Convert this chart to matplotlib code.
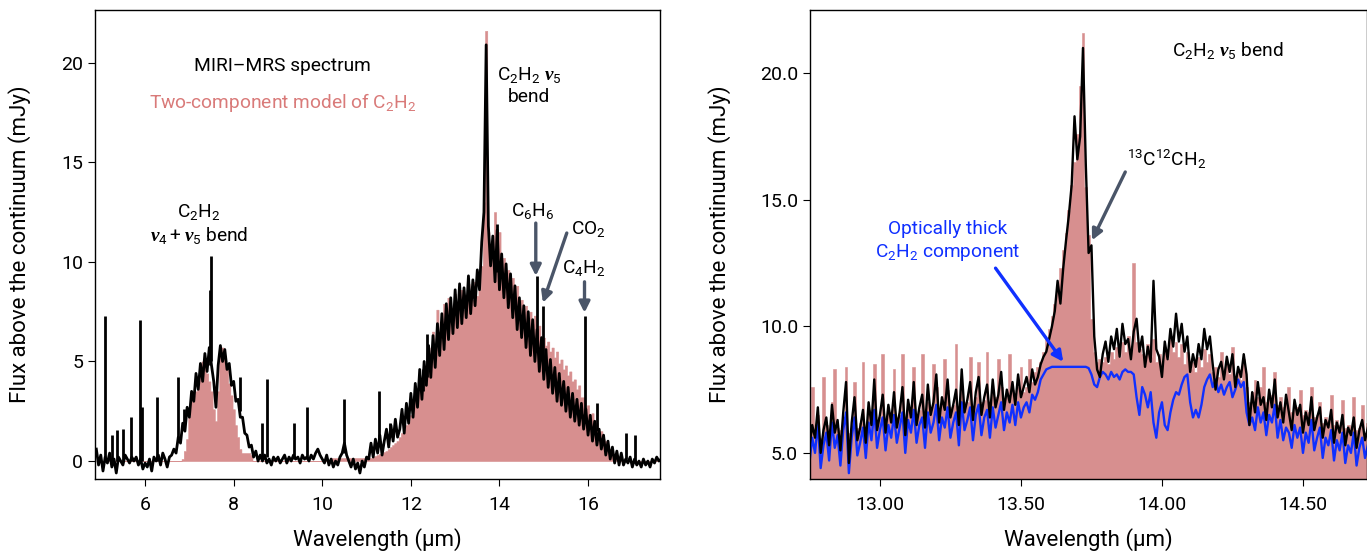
import numpy as np
import matplotlib
matplotlib.use("Agg")
import matplotlib.pyplot as plt
from matplotlib.ticker import FormatStrFormatter

plt.rcParams['font.family'] = ['Roboto', 'DejaVu Sans']
plt.rcParams['mathtext.fontset'] = 'custom'
plt.rcParams['mathtext.rm'] = 'Roboto'
plt.rcParams['mathtext.it'] = 'Roboto:italic'
plt.rcParams['mathtext.bf'] = 'Roboto:bold'
plt.rcParams['mathtext.bfit'] = 'Liberation Serif:italic:bold'

# ---- full MIRI-MRS range (left), 0.05 um sampling from 4.90 um ----
wl0_full, dwl_full = 4.90, 0.05
flux_full = (
    # 4.90 - 6.65
    [0.6, -0.2, 0.3, -0.5, 0.2, -0.1, 0.4, -0.3, 0.1, -0.6,
     0.2, 0.0, -0.2, 0.3, 0.1, -0.1, 0.2, 0.0, 0.2, -0.2,
     0.1, -0.4, -0.1, -0.3, 0.1, -0.5, 0.2, 0.0, 0.3, -0.2,
     0.4, 0.1, -0.3, 0.2, 0.3, 0.6]
    # 6.70 - 8.60  (nu4+nu5 band)
    + [0.4, 1.2, 0.9, 1.9, 1.5, 2.7, 2.2, 3.5, 3.0, 4.4,
       3.6, 4.9, 4.0, 5.4, 4.5, 5.7, 4.8, 4.0, 2.7, 4.8,
       5.8, 5.0, 5.6, 4.6, 4.9, 3.8, 4.0, 3.0, 3.1, 2.2,
       2.2, 1.4, 1.3, 0.7, 0.8, 0.2, 0.5, 0.0, 0.3]
    # 8.65 - 11.00
    + [0.0, 0.3, -0.1, 0.1, -0.2, 0.2, 0.0, 0.2, -0.1, 0.1,
       0.3, -0.1, 0.2, 0.0, 0.3, 0.1, 0.2, -0.1, 0.3, 0.1,
       0.2, 0.0, 0.3, 0.1, 0.4, 0.6, 0.3, 0.1, -0.1, 0.3,
       -0.2, 0.1, -0.3, 0.0, -0.2, 0.2, 0.4, 0.9, 0.3, 0.0,
       -0.3, 0.1, -0.4, -0.1, -0.6, 0.0, -0.3, 0.2]
    # 11.05 - 13.65  (nu5 band, blue wing)
    + [0.1, 0.9, 0.2, 1.1, 0.4, 1.3, 0.3, 1.0, 1.6, 0.7,
       1.8, 1.0, 2.1, 1.2, 1.6, 2.6, 1.4, 2.9, 1.9, 3.4,
       2.2, 3.9, 2.7, 4.6, 3.1, 5.0, 3.8, 5.8, 4.2, 6.3,
       4.7, 6.9, 5.3, 7.4, 5.6, 7.9, 6.1, 8.2, 6.4, 8.6,
       6.7, 8.9, 6.9, 8.7, 7.2, 9.3, 7.4, 9.1, 7.8, 9.6,
       8.6, 11.0, 12.5]
    # 13.70 - 14.35  (Q branch)
    + [20.9, 11.8, 9.8, 11.3, 9.0, 11.6, 8.6, 10.4, 8.2, 9.9,
       7.7, 9.4, 7.2, 8.8]
    # 14.40 - 16.75  (red wing)
    + [6.6, 8.2, 6.2, 7.8, 5.7, 7.5, 5.3, 7.1, 5.0, 6.6,
       4.5, 6.2, 4.1, 5.6, 3.7, 5.1, 3.4, 4.7, 3.0, 4.4,
       2.8, 4.0, 2.5, 3.7, 2.2, 3.4, 2.0, 3.1, 1.8, 2.9,
       1.6, 2.6, 1.3, 2.3, 1.0, 2.0, 0.8, 1.6, 0.6, 1.3,
       0.3, 1.0, 0.1, 0.7, -0.1, 0.5, -0.2, 0.4]
    # 16.80 - 17.65
    + [-0.2, 0.1, -0.1, 0.2, -0.3, 0.1, -0.2, 0.0, -0.3, 0.1,
       -0.2, 0.0, -0.3, 0.1, -0.1, 0.2, 0.0, 0.1]
)
model_full = (
    [0.0] * 36
    + [0.0, 0.0, 0.0, 0.1, 0.5, 1.1, 2.2, 3.0, 3.3, 3.5,
       4.0, 4.6, 5.0, 5.0, 4.4, 4.0, 3.5, 2.6, 2.0, 3.5,
       5.3, 5.7, 5.3, 4.6, 3.9, 3.3, 2.6, 1.8, 1.2, 0.6,
       0.4, 0.4, 0.4, 0.4, 0.3, 0.0, 0.0, 0.0, 0.0]
    + [0.0] * 31 + [0.15] * 17
    + [0.15, 0.15, 0.2, 0.25, 0.3, 0.35, 0.4, 0.45, 0.5, 0.6,
       0.7, 0.8, 0.9, 1.0, 1.2, 1.4, 1.6, 1.8, 2.0, 2.3,
       2.6, 3.0, 3.3, 3.8, 4.0, 4.6, 4.8, 5.7, 5.3, 6.5,
       5.9, 7.6, 6.3, 6.6, 7.9, 6.8, 8.2, 7.0, 7.2, 8.4,
       7.3, 7.6, 8.6, 7.6, 7.8, 8.9, 7.9, 8.1, 9.0, 8.3,
       8.6, 9.8, 13.0]
    + [21.6, 11.5, 10.6, 10.2, 12.5, 9.8, 11.5, 9.4, 10.2, 9.0,
       9.6, 8.6, 9.2, 8.3]
    + [8.8, 7.9, 8.1, 7.5, 7.8, 7.2, 7.5, 6.9, 7.3, 6.6,
       6.8, 6.2, 6.2, 5.8, 6.0, 5.5, 5.7, 5.2, 5.5, 4.9,
       5.1, 4.6, 4.8, 4.3, 4.5, 4.0, 4.1, 3.6, 3.8, 3.2,
       3.2, 2.7, 2.8, 2.3, 2.4, 1.9, 1.9, 1.5, 1.5, 1.1,
       1.0, 0.7, 0.6, 0.4, 0.3, 0.15, 0.1, 0.0]
    + [0.0] * 18
)

# narrow emission lines on top of the spectrum: position, foot, peak
line_wl = [5.10, 5.25, 5.36, 5.51, 5.68, 5.89, 5.94, 6.27, 6.75, 6.89,
           7.47, 7.49, 8.14, 8.65, 8.75, 9.37, 9.65, 10.48, 11.29, 11.53,
           12.28, 12.36, 13.94, 14.84, 14.98, 15.92, 16.20, 16.86, 17.05]
line_foot = [0.0, 0.0, 0.0, 0.0, 0.0, 0.0, 0.0, 0.0, 1.0, 1.8,
             4.8, 5.0, 2.5, 0.1, 0.2, 0.1, 0.1, 0.4, 0.8, 1.2,
             3.5, 4.2, 9.5, 5.8, 5.0, 2.4, 1.5, 0.1, 0.0]
line_peak = [7.3, 1.3, 1.55, 1.6, 2.2, 7.1, 2.7, 3.2, 4.2, 2.6,
             8.6, 10.3, 4.2, 1.9, 4.1, 1.9, 2.7, 3.1, 3.5, 1.9,
             4.6, 6.4, 11.9, 9.3, 7.8, 7.3, 2.9, 1.4, 1.3]

# ---- zoom on the nu5 band (right), 0.01 um sampling from 12.75 um ----
wl0_zoom, dwl_zoom = 12.75, 0.01
flux_zoom = (
    # 12.75 - 13.55
    [5.2, 6.1, 5.6, 6.8, 5.0, 5.9, 6.4, 5.3, 6.9, 5.8,
     6.3, 5.1, 6.6, 7.8, 4.6, 6.2, 7.2, 5.5, 6.0, 6.7,
     5.4, 7.0, 6.1, 7.9, 5.9, 6.5, 7.3, 5.8, 6.9, 6.2,
     7.4, 6.0, 6.6, 7.6, 5.7, 7.1, 6.4, 7.8, 6.1, 6.8,
     7.3, 6.0, 7.7, 6.5, 7.0, 8.1, 6.2, 7.2, 6.7, 7.9,
     6.4, 6.9, 7.5, 6.1, 8.3, 6.6, 7.1, 7.8, 6.3, 7.4,
     8.0, 6.5, 7.2, 7.7, 6.4, 7.9, 6.8, 7.3, 8.2, 6.7,
     7.5, 7.0, 7.8, 6.9, 8.1, 7.2, 7.6, 8.0, 7.4, 8.3,
     7.7]
    # 13.56 - 13.78
    + [8.0, 8.5, 8.8, 9.0, 9.5, 10.0, 10.6, 11.8, 10.9, 12.3,
       13.4, 14.4, 15.6, 18.3, 16.6, 17.5, 21.0, 16.4, 12.9, 13.2,
       9.6, 8.3, 8.0]
    # 13.79 - 14.30
    + [8.9, 9.4, 8.6, 9.6, 9.1, 9.9, 8.8, 10.1, 9.3, 9.5,
       8.7, 9.8, 10.3, 9.0, 9.6, 8.4, 9.2, 8.6, 11.8, 9.1,
       8.8, 8.0, 9.4, 8.7, 9.9, 9.2, 10.5, 9.4, 10.1, 9.0,
       9.6, 8.2, 8.9, 8.4, 9.3, 8.7, 9.9, 9.1, 9.6, 8.5,
       7.5, 8.3, 8.6, 7.9, 8.8, 8.2, 8.9, 7.6, 8.4, 8.0,
       8.9, 8.1]
    # 14.31 - 14.73
    + [6.1, 7.4, 6.6, 7.8, 6.9, 7.2, 6.3, 7.5, 6.8, 7.9,
       6.4, 7.0, 6.2, 7.3, 6.6, 5.9, 7.1, 6.5, 6.9, 5.8,
       6.6, 6.1, 7.2, 5.9, 6.4, 6.8, 5.6, 6.3, 6.0, 6.7,
       5.4, 6.2, 5.8, 6.5, 5.3, 6.0, 5.7, 6.4, 5.2, 5.9,
       6.3, 5.5, 6.0]
)
thick_zoom = (
    [4.6, 5.6, 5.0, 6.2, 4.4, 5.3, 5.8, 4.7, 6.2, 5.2,
     5.7, 4.5, 5.9, 6.6, 4.2, 5.6, 6.4, 4.9, 5.4, 6.0,
     4.8, 6.2, 5.5, 6.7, 5.2, 5.9, 6.4, 5.1, 6.1, 5.6,
     6.5, 5.4, 6.0, 6.6, 5.0, 6.3, 5.8, 6.7, 5.4, 6.1,
     6.4, 5.2, 6.6, 5.8, 6.2, 6.9, 5.5, 6.4, 6.0, 6.8,
     5.6, 6.2, 6.6, 5.3, 7.0, 5.9, 6.3, 6.8, 5.5, 6.5,
     6.9, 5.7, 6.4, 6.7, 5.6, 6.8, 6.0, 6.5, 7.0, 5.9,
     6.6, 6.2, 6.9, 6.1, 7.0, 6.4, 6.8, 7.0, 6.6, 7.3,
     7.1]
    + [7.4, 7.9, 8.1, 8.3, 8.35, 8.4, 8.4, 8.4, 8.4, 8.4,
       8.4, 8.4, 8.4, 8.4, 8.4, 8.4, 8.4, 8.4, 8.35, 8.1,
       7.7, 7.6, 8.0]
    + [8.2, 8.1, 7.9, 8.2, 8.0, 8.1, 7.9, 8.2, 8.3, 8.2,
       8.2, 8.1, 7.2, 6.5, 7.6, 7.3, 6.8, 7.4, 6.2, 5.6,
       6.6, 7.0, 6.1, 5.9, 6.6, 7.1, 7.4, 7.3, 7.7, 8.0,
       8.1, 7.0, 6.4, 6.7, 6.4, 6.9, 7.6, 7.9, 8.1, 7.6,
       7.9, 7.4, 7.7, 7.3, 7.6, 7.8, 7.2, 7.5, 7.9, 7.6,
       7.8, 6.6]
    + [6.1, 6.4, 5.9, 6.8, 6.2, 6.6, 5.7, 6.5, 6.2, 6.9,
       5.6, 6.3, 5.5, 6.0, 5.8, 5.2, 6.1, 5.6, 6.0, 5.0,
       5.8, 5.4, 6.3, 5.1, 5.6, 6.0, 4.8, 5.6, 5.3, 5.9,
       4.7, 5.5, 5.1, 5.8, 4.6, 5.3, 5.0, 5.8, 4.5, 5.2,
       5.6, 4.8, 5.3]
)
model_zoom = (
    [6.0, 7.6, 5.8, 6.5, 5.6, 8.0, 6.1, 5.9, 7.0, 8.3,
     6.0, 5.9, 6.4, 8.4, 5.8, 6.0, 7.8, 6.0, 6.2, 8.6,
     6.0, 6.7, 6.4, 8.5, 6.2, 6.4, 8.9, 6.1, 6.6, 6.5,
     8.3, 6.4, 6.5, 8.9, 6.3, 6.8, 6.6, 8.4, 6.5, 6.7,
     8.9, 6.6, 7.0, 6.8, 8.5, 7.6, 6.6, 7.0, 8.7, 7.5,
     6.8, 6.9, 9.3, 6.7, 7.6, 7.0, 7.0, 8.8, 6.8, 7.2,
     8.6, 7.0, 7.1, 9.0, 7.0, 7.5, 7.2, 8.7, 7.6, 7.1,
     7.3, 8.9, 7.5, 7.2, 7.6, 8.4, 7.4, 7.6, 8.7, 7.8,
     8.2]
    + [8.4, 8.6, 9.0, 9.5, 9.9, 10.4, 10.9, 11.6, 12.3, 13.0,
       13.7, 14.6, 15.6, 16.5, 17.6, 19.5, 21.6, 15.5, 13.6, 10.3,
       9.0, 8.6, 8.7]
    + [8.6, 8.8, 8.5, 9.0, 8.7, 9.2, 8.8, 9.4, 9.0, 9.6,
       9.2, 12.5, 9.4, 9.1, 8.9, 8.7, 9.3, 8.8, 9.5, 8.6,
       8.9, 8.4, 9.2, 8.7, 9.6, 9.0, 9.4, 8.8, 9.3, 8.5,
       9.0, 8.3, 8.6, 8.2, 8.8, 8.4, 9.1, 8.6, 8.9, 8.2,
       8.4, 8.0, 9.0, 7.9, 8.6, 8.1, 9.2, 7.8, 8.3, 7.9,
       8.7, 7.6]
    + [7.0, 7.4, 7.9, 7.2, 7.6, 8.4, 7.0, 7.3, 7.1, 8.2,
       6.9, 7.2, 6.8, 7.0, 7.6, 6.6, 6.9, 6.8, 7.5, 6.5,
       6.7, 6.6, 7.6, 6.4, 6.5, 7.0, 6.2, 6.4, 6.3, 7.3,
       6.1, 6.3, 6.1, 7.1, 6.0, 6.1, 6.0, 7.2, 5.9, 6.0,
       6.9, 5.8, 6.2]
)

wl_full = wl0_full + dwl_full * np.arange(len(flux_full))
wl_zoom = wl0_zoom + dwl_zoom * np.arange(len(flux_zoom))

PINK = '#d78f8f'
PINK_TXT = '#d97a79'
BLUE = '#1030ff'
ARROW = '#4a5568'
TXT = 13.8

fig = plt.figure(figsize=(13.67, 5.55), dpi=100)
ax1 = fig.add_axes([0.0695, 0.137, 0.4135, 0.845])
ax2 = fig.add_axes([0.5925, 0.137, 0.4075, 0.845])

# left: full spectrum
ax1.fill_between(wl_full, 0, model_full, step='mid', facecolor=PINK,
                 edgecolor=PINK, lw=0.4)
ax1.plot(wl_full, flux_full, color='k', lw=2.0)
ax1.vlines(line_wl, line_foot, line_peak, color='k', lw=2.0)
ax1.set_xlim(4.87, 17.63)
ax1.set_ylim(-0.9, 22.65)
ax1.set_xticks([6, 8, 10, 12, 14, 16])
ax1.set_yticks([0, 5, 10, 15, 20])

ax1.text(9.1, 19.85, 'MIRI\u2013MRS spectrum', fontsize=TXT, ha='center', va='center')
ax1.text(9.1, 18.0, r'Two-component model of C$_2$H$_2$', fontsize=TXT,
         color=PINK_TXT, ha='center', va='center')
ax1.text(7.22, 12.5, r'C$_2$H$_2$', fontsize=TXT, ha='center', va='center')
ax1.text(7.22, 11.35, r'$\mathbfit{\nu}_4+\mathbfit{\nu}_5$ bend', fontsize=TXT,
         ha='center', va='center')
ax1.text(14.67, 19.4, r'C$_2$H$_2$ $\mathbfit{\nu}_5$', fontsize=TXT, ha='center', va='center')
ax1.text(14.67, 18.3, 'bend', fontsize=TXT, ha='center', va='center')
ax1.text(14.76, 12.55, r'C$_6$H$_6$', fontsize=TXT, ha='center', va='center')
ax1.text(16.0, 11.65, r'CO$_2$', fontsize=TXT, ha='center', va='center')
ax1.text(15.91, 9.7, r'C$_4$H$_2$', fontsize=TXT, ha='center', va='center')

arrow_kw = dict(arrowstyle='-|>', color=ARROW, lw=2.4, mutation_scale=16,
                shrinkA=0, shrinkB=0)
ax1.annotate('', xy=(14.82, 9.3), xytext=(14.82, 11.95), arrowprops=arrow_kw)
ax1.annotate('', xy=(14.98, 7.95), xytext=(15.52, 11.45), arrowprops=arrow_kw)
ax1.annotate('', xy=(15.92, 7.45), xytext=(15.92, 9.0), arrowprops=arrow_kw)

# right: zoom on the Q branch
ax2.fill_between(wl_zoom, 0, model_zoom, step='mid', facecolor=PINK,
                 edgecolor=PINK, lw=0.4)
ax2.plot(wl_zoom, thick_zoom, color=BLUE, lw=1.7)
ax2.plot(wl_zoom, flux_zoom, color='k', lw=1.7)
ax2.set_xlim(12.752, 14.727)
ax2.set_ylim(3.97, 22.5)
ax2.set_xticks([13.0, 13.5, 14.0, 14.5])
ax2.set_yticks([5, 10, 15, 20])
ax2.xaxis.set_major_formatter(FormatStrFormatter('%.2f'))
ax2.yaxis.set_major_formatter(FormatStrFormatter('%.1f'))

ax2.text(14.035, 20.9, r'C$_2$H$_2$ $\mathbfit{\nu}_5$ bend', fontsize=TXT, ha='left', va='center')
ax2.text(13.875, 16.6, r'$^{13}$C$^{12}$CH$_2$', fontsize=TXT, ha='left', va='center')
ax2.annotate('', xy=(13.752, 13.4), xytext=(13.87, 16.1), arrowprops=arrow_kw)
ax2.text(13.24, 13.35, 'Optically thick\n' + r'C$_2$H$_2$ component', fontsize=TXT,
         color=BLUE, ha='center', va='center', linespacing=1.3)
ax2.annotate('', xy=(13.65, 8.6), xytext=(13.41, 12.3),
             arrowprops=dict(arrowstyle='-|>', color=BLUE, lw=2.4,
                             mutation_scale=16, shrinkA=0, shrinkB=0))

for ax, ylab_x in ((ax1, -0.113), (ax2, -0.142)):
    ax.set_xlabel('Wavelength (\u03bcm)', fontsize=16)
    ax.set_ylabel('Flux above the continuum (mJy)', fontsize=16)
    ax.xaxis.set_label_coords(0.5, -0.105)
    ax.yaxis.set_label_coords(ylab_x, 0.5)
    ax.tick_params(labelsize=14, length=5, width=0.8, direction='out')
    ax.tick_params(axis='x', pad=7)
    for s in ax.spines.values():
        s.set_linewidth(1.0)

fig.savefig('out.png', dpi=100)
